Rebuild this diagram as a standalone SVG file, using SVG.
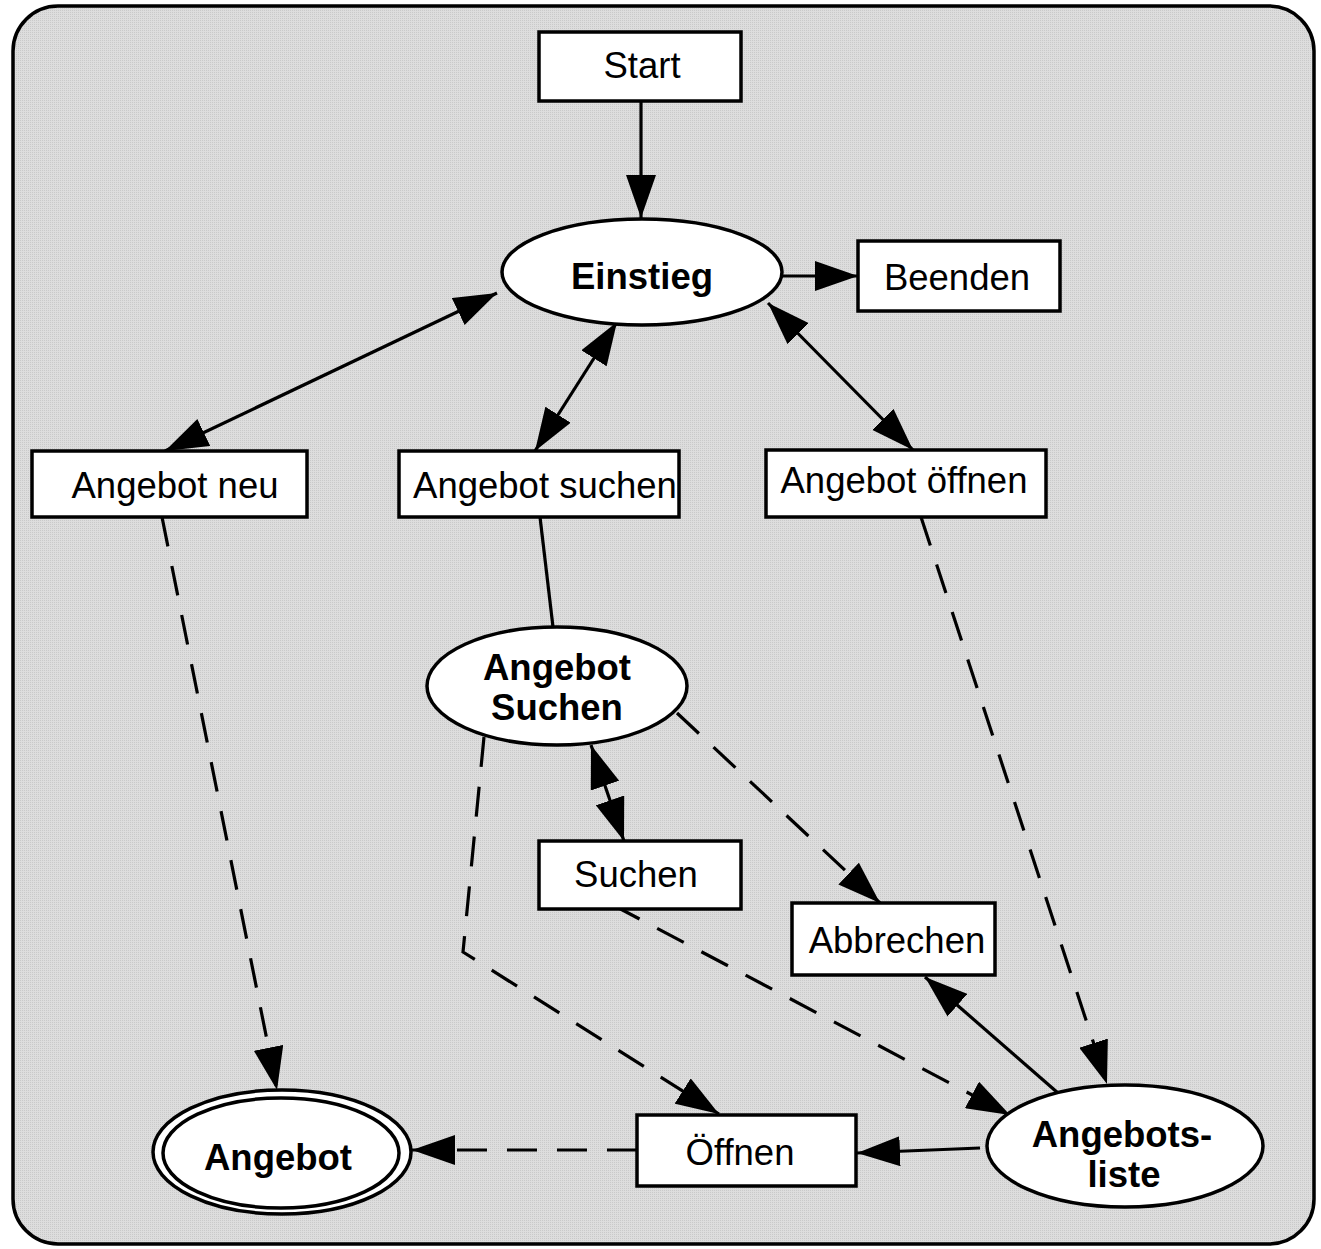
<svg xmlns="http://www.w3.org/2000/svg" width="1321" height="1249" viewBox="0 0 1321 1249">
  <style>
    .box { fill: #ffffff; stroke: #000000; stroke-width: 3.5; }
    .lbl { font-family: "Liberation Sans", Arial, sans-serif; font-size: 36.5px; fill: #000000; text-anchor: middle; }
    .bold { font-weight: bold; }
    .edge { fill: none; stroke: #000000; stroke-width: 3.2; }
    .dash { stroke-dasharray: 30 20; }
  </style>
  <defs>
    <pattern id="grain" width="2" height="2" patternUnits="userSpaceOnUse">
      <rect width="2" height="2" fill="#dddddd"/>
      <rect width="1" height="1" fill="#c9c9c9"/>
    </pattern>
    <marker id="head" viewBox="0 0 43 30" refX="43" refY="15" markerWidth="43" markerHeight="30" markerUnits="userSpaceOnUse" orient="auto-start-reverse">
      <path d="M0,0 L43,15 L0,30 Z" fill="#000000"/>
    </marker>
  </defs>

  <!-- frame -->
  <rect x="13" y="6" width="1301" height="1238" rx="45" ry="45" fill="url(#grain)" stroke="#000000" stroke-width="3.5"/>

  <!-- connectors -->
  <g id="connectors">
    <path class="edge" d="M641,101 L641,218" marker-end="url(#head)"/>
    <path class="edge" d="M782,276 L858,276" marker-end="url(#head)"/>
    <path class="edge" d="M165,451 L497,293" marker-start="url(#head)" marker-end="url(#head)"/>
    <path class="edge" d="M535,451 L617,322" marker-start="url(#head)" marker-end="url(#head)"/>
    <path class="edge" d="M913,450 L768,303" marker-start="url(#head)" marker-end="url(#head)"/>
    <path class="edge" d="M540,517 L553,627"/>
    <path class="edge" d="M624,841 L591,745" marker-start="url(#head)" marker-end="url(#head)"/>
    <path class="edge dash" d="M677,713 L880,903" marker-end="url(#head)"/>
    <path class="edge dash" d="M484,737 L463,952 L719,1114" marker-end="url(#head)"/>
    <path class="edge dash" d="M613,905 L1010,1115" marker-end="url(#head)"/>
    <path class="edge dash" d="M921,517 L1107,1084" marker-end="url(#head)"/>
    <path class="edge" d="M1058,1093 L925,977" marker-end="url(#head)"/>
    <path class="edge" d="M980,1148 L857,1153" marker-end="url(#head)"/>
    <path class="edge dash" d="M637,1150 L412,1150" marker-end="url(#head)"/>
    <path class="edge dash" d="M162,517 L277,1090" marker-end="url(#head)"/>
  </g>

  <!-- nodes -->
  <g id="start">
    <rect class="box" x="539" y="32" width="202" height="69"/>
    <text class="lbl" x="642" y="78">Start</text>
  </g>
  <g id="einstieg">
    <ellipse class="box" cx="642" cy="272" rx="140" ry="53"/>
    <text class="lbl bold" x="642" y="289">Einstieg</text>
  </g>
  <g id="beenden">
    <rect class="box" x="858" y="241" width="202" height="70"/>
    <text class="lbl" x="957" y="290">Beenden</text>
  </g>
  <g id="angebot-neu">
    <rect class="box" x="32" y="451" width="275" height="66"/>
    <text class="lbl" x="175" y="498">Angebot neu</text>
  </g>
  <g id="angebot-suchen">
    <rect class="box" x="399" y="451" width="280" height="66"/>
    <text class="lbl" x="545" y="498">Angebot suchen</text>
  </g>
  <g id="angebot-oeffnen">
    <rect class="box" x="766" y="450" width="280" height="67"/>
    <text class="lbl" x="904" y="493">Angebot öffnen</text>
  </g>
  <g id="angebot-suchen-state">
    <ellipse class="box" cx="557" cy="686" rx="130" ry="59"/>
    <text class="lbl bold" x="557" y="680">Angebot</text>
    <text class="lbl bold" x="557" y="720">Suchen</text>
  </g>
  <g id="suchen">
    <rect class="box" x="539" y="841" width="202" height="68"/>
    <text class="lbl" x="636" y="887">Suchen</text>
  </g>
  <g id="abbrechen">
    <rect class="box" x="792" y="903" width="203" height="72"/>
    <text class="lbl" x="897" y="953">Abbrechen</text>
  </g>
  <g id="angebotsliste">
    <ellipse class="box" cx="1125" cy="1146" rx="138" ry="61"/>
    <text class="lbl bold" x="1122" y="1147">Angebots-</text>
    <text class="lbl bold" x="1124" y="1187">liste</text>
  </g>
  <g id="oeffnen">
    <rect class="box" x="637" y="1115" width="219" height="71"/>
    <text class="lbl" x="740" y="1165">Öffnen</text>
  </g>
  <g id="angebot">
    <ellipse class="box" cx="282" cy="1152" rx="129" ry="62"/>
    <ellipse class="box" cx="281" cy="1153" rx="118" ry="55"/>
    <text class="lbl bold" x="278" y="1170">Angebot</text>
  </g>
</svg>
